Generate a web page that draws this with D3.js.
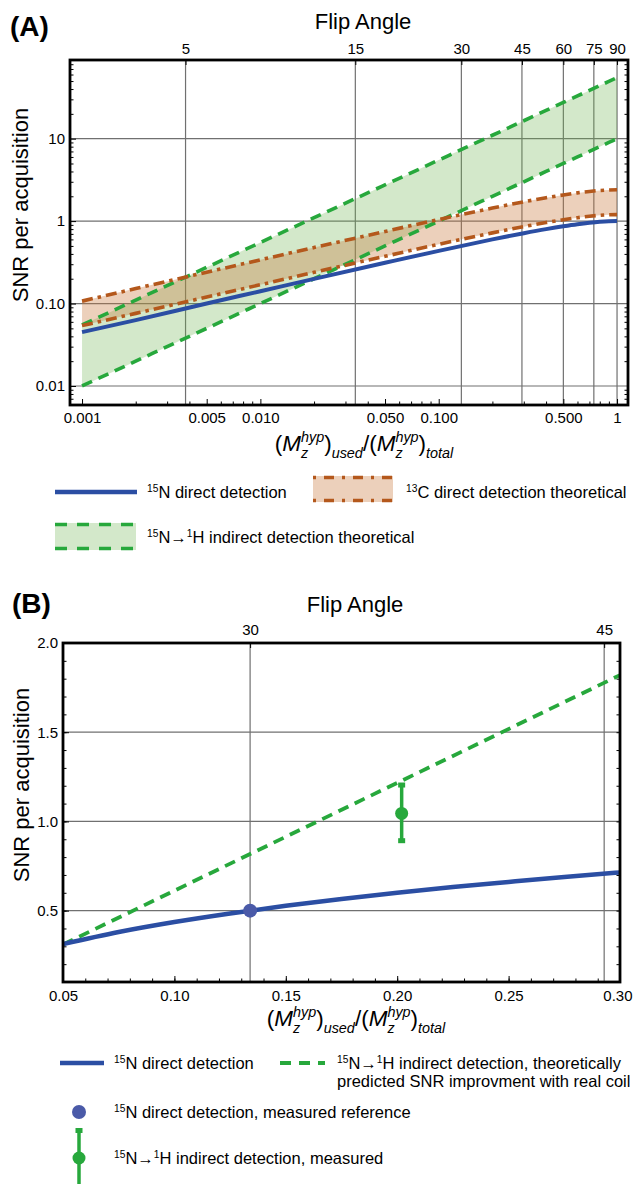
<!DOCTYPE html>
<html>
<head>
<meta charset="utf-8">
<script src="https://cdn.jsdelivr.net/npm/d3@7"></script>
<style>
body { margin: 0; background: #fff; }
svg { display: block; font-family: "Liberation Sans", Arial, sans-serif; }
</style>
</head>
<body>
<svg id="chart" width="633" height="1184"></svg>
<script>
// ---- panel A values ----
const fracA  = [0.001, 0.002, 0.005, 0.01, 0.02, 0.05, 0.1, 0.2, 0.3, 0.4, 0.5, 0.6, 0.7, 0.8, 0.9, 1];
const n15A   = [0.045, 0.063, 0.100, 0.141, 0.199, 0.312, 0.436, 0.600, 0.714, 0.800, 0.866, 0.917, 0.954, 0.980, 0.995, 1.0];
const c13HiA = [0.107, 0.152, 0.240, 0.339, 0.478, 0.749, 1.046, 1.44, 1.714, 1.92, 2.078, 2.20, 2.29, 2.352, 2.388, 2.4];
const c13LoA = [0.054, 0.076, 0.120, 0.169, 0.239, 0.374, 0.523, 0.72, 0.857, 0.96, 1.039, 1.10, 1.145, 1.176, 1.194, 1.2];
const h1HiA  = [0.055, 0.11, 0.275, 0.55, 1.1, 2.75, 5.5, 11, 16.5, 22, 27.5, 33, 38.5, 44, 49.5, 55];
const h1LoA  = [0.01, 0.02, 0.05, 0.1, 0.2, 0.5, 1, 2, 3, 4, 5, 6, 7, 8, 9, 10];
const flipTicksA = [5, 15, 30, 45, 60, 75, 90];
const xTicksA = [0.001, 0.005, 0.01, 0.05, 0.1, 0.5, 1];
const xLabelsA = ["0.001", "0.005", "0.010", "0.050", "0.100", "0.500", "1"];
const yTicksA = [0.01, 0.1, 1, 10];
const yLabelsA = ["0.01", "0.10", "1", "10"];

// ---- panel B values ----
const fracB = [0.05, 0.075, 0.1, 0.125, 0.15, 0.175, 0.2, 0.225, 0.25, 0.275, 0.3];
const n15B  = [0.312, 0.380, 0.436, 0.484, 0.527, 0.565, 0.600, 0.632, 0.661, 0.689, 0.714];
const h1FracB = [0.05, 0.30];
const h1B     = [0.31, 1.82];
const refPoint  = {f: 0.134, snr: 0.50};
const measPoint = {f: 0.202, snr: 1.045, lo: 0.892, hi: 1.204};
const flipTicksB = [30, 45];
const xTicksB = [0.05, 0.10, 0.15, 0.20, 0.25, 0.30];
const yTicksB = [0.5, 1.0, 1.5, 2.0];

const blue = "#2b4ea3", dotBlue = "#4a5aa8", green = "#27a83c", brown = "#b4581c";
const greenFill = "rgba(110,180,80,0.3)", brownFill = "rgba(200,120,60,0.35)";
const gridColor = "#707070";

const svg = d3.select("#chart");
const flipToFrac = a => 1 - Math.cos(a * Math.PI / 180);

// text with superscripts: parts = [[text, isSup], ...]
function richText(g, x, y, parts, size) {
    const t = g.append("text").attr("x", x).attr("y", y).attr("font-size", size);
    let raised = false;
    parts.forEach(([s, sup]) => {
        const sp = t.append("tspan").text(s);
        if (sup && !raised) { sp.attr("font-size", size * 0.62).attr("dy", -size * 0.38); raised = true; }
        else if (!sup && raised) { sp.attr("dy", size * 0.38); raised = false; }
        else if (sup) sp.attr("font-size", size * 0.62);
    });
    return t;
}

// (Mz^hyp)used/(Mz^hyp)total
function mzTitle(g, cx, by, s) {
    const sub = 0.64 * s;
    const t = g.append("g");
    let cur = 0;
    const put = (txt, size, it, dy) => {
        const e = t.append("text").attr("x", cur).attr("y", by + dy)
            .attr("font-size", size).attr("font-style", it ? "italic" : null).text(txt);
        return e.node().getComputedTextLength();
    };
    const half = (tail) => {
        cur += put("(", s, false, 0);
        cur += put("M", s, true, 0);
        const w1 = put("hyp", sub, true, -0.42 * s);
        const w2 = put("z", sub, true, 0.30 * s);
        cur += Math.max(w1, w2);
        cur += put(")", s, false, 0);
        cur += put(tail, sub, true, 0.32 * s);
    };
    half("used");
    cur += put("/", s, false, 0);
    half("total");
    t.attr("transform", `translate(${cx - cur / 2},0)`);
}

function styleAxis(a, size) {
    a.attr("font-size", size).attr("font-family", null);
    a.select(".domain").remove();
}

function drawPanelA() {
    const L = 70, R = 628, T = 60, B = 405;
    const x = d3.scaleLog().domain([0.000856, 1.152]).range([L, R]);
    const y = d3.scaleLog().domain([0.00588, 90]).range([B, T]);
    const g = svg.append("g");

    // grid
    g.selectAll(".vgrid").data(flipTicksA).join("line")
        .attr("x1", d => x(flipToFrac(d))).attr("x2", d => x(flipToFrac(d)))
        .attr("y1", T).attr("y2", B).attr("stroke", gridColor).attr("stroke-width", 1.2);
    g.selectAll(".hgrid").data(yTicksA).join("line")
        .attr("x1", L).attr("x2", R).attr("y1", d => y(d)).attr("y2", d => y(d))
        .attr("stroke", gridColor).attr("stroke-width", 1.2);

    const rows = fracA.map((f, i) => ({f, n15: n15A[i], cHi: c13HiA[i], cLo: c13LoA[i], hHi: h1HiA[i], hLo: h1LoA[i]}));
    const band = (hi, lo) => d3.area().x(d => x(d.f)).y0(d => y(d[lo])).y1(d => y(d[hi])).curve(d3.curveMonotoneX);
    const line = key => d3.line().x(d => x(d.f)).y(d => y(d[key])).curve(d3.curveMonotoneX);

    g.append("path").datum(rows).attr("d", band("hHi", "hLo")).attr("fill", greenFill);
    g.append("path").datum(rows).attr("d", band("cHi", "cLo")).attr("fill", brownFill);

    ["hHi", "hLo"].forEach(k => g.append("path").datum(rows).attr("d", line(k))
        .attr("fill", "none").attr("stroke", green).attr("stroke-width", 3.6).attr("stroke-dasharray", "11,7"));
    ["cHi", "cLo"].forEach(k => g.append("path").datum(rows).attr("d", line(k))
        .attr("fill", "none").attr("stroke", brown).attr("stroke-width", 3.6).attr("stroke-dasharray", "11,5,3.5,5"));
    g.append("path").datum(rows).attr("d", line("n15"))
        .attr("fill", "none").attr("stroke", blue).attr("stroke-width", 4);

    // minor tick positions
    const minorX = [0.001, 0.01, 0.1].flatMap(b => [2, 3, 4, 6, 7, 8, 9].map(m => b * m));
    const minorY = [0.001, 0.01, 0.1, 1, 10].flatMap(b => [2, 3, 4, 5, 6, 7, 8, 9].map(m => b * m))
        .filter(v => v > 0.00588 && v < 90);

    const ax = g.append("g").attr("transform", `translate(0,${B})`)
        .call(d3.axisBottom(x).tickValues(xTicksA).tickFormat((d, i) => xLabelsA[i]).tickSize(-6).tickPadding(7));
    styleAxis(ax, 15);
    styleAxis(g.append("g").attr("transform", `translate(0,${B})`)
        .call(d3.axisBottom(x).tickValues(minorX).tickFormat("").tickSize(-3.5)), 15);

    const at = g.append("g").attr("transform", `translate(0,${T})`)
        .call(d3.axisTop(x).tickValues(flipTicksA.map(flipToFrac)).tickFormat((d, i) => flipTicksA[i]).tickSize(-5).tickPadding(6.5));
    styleAxis(at, 15);

    const ay = g.append("g").attr("transform", `translate(${L},0)`)
        .call(d3.axisLeft(y).tickValues(yTicksA).tickFormat((d, i) => yLabelsA[i]).tickSize(-6).tickPadding(5));
    styleAxis(ay, 15);
    styleAxis(g.append("g").attr("transform", `translate(${L},0)`)
        .call(d3.axisLeft(y).tickValues(minorY).tickFormat("").tickSize(-3.5)), 15);
    styleAxis(g.append("g").attr("transform", `translate(${R},0)`)
        .call(d3.axisRight(y).tickValues(minorY).tickFormat("").tickSize(-3.5)), 15);

    g.append("rect").attr("x", L).attr("y", T).attr("width", R - L).attr("height", B - T)
        .attr("fill", "none").attr("stroke", "#000").attr("stroke-width", 2.8);

    // titles
    g.append("text").attr("x", 10).attr("y", 36).attr("font-size", 28).attr("font-weight", "bold").text("(A)");
    g.append("text").attr("x", 363).attr("y", 29).attr("font-size", 22).attr("text-anchor", "middle").text("Flip Angle");
    g.append("text").attr("transform", "translate(28,205) rotate(-90)").attr("font-size", 22)
        .attr("text-anchor", "middle").text("SNR per acquisition");
    mzTitle(g, 364, 451, 22.5);

    // legend
    const lg = g.append("g");
    lg.append("line").attr("x1", 55).attr("x2", 137).attr("y1", 492).attr("y2", 492)
        .attr("stroke", blue).attr("stroke-width", 4.5);
    richText(lg, 147, 498, [["15", true], ["N direct detection", false]], 16.5);

    lg.append("rect").attr("x", 313).attr("y", 476).attr("width", 80).attr("height", 26).attr("fill", brownFill);
    [477.5, 500.5].forEach(yy => lg.append("line").attr("x1", 313).attr("x2", 393).attr("y1", yy).attr("y2", yy)
        .attr("stroke", brown).attr("stroke-width", 3.4).attr("stroke-dasharray", "3,8,10,8"));
    richText(lg, 406, 498, [["13", true], ["C direct detection theoretical", false]], 16.5);

    lg.append("rect").attr("x", 55).attr("y", 523).attr("width", 81).attr("height", 27).attr("fill", greenFill);
    [524.5, 548.5].forEach(yy => lg.append("line").attr("x1", 55).attr("x2", 136).attr("y1", yy).attr("y2", yy)
        .attr("stroke", green).attr("stroke-width", 3.5).attr("stroke-dasharray", "12,10"));
    richText(lg, 147, 543, [["15", true], ["N→", false], ["1", true], ["H indirect detection theoretical", false]], 16.5);
}

function drawPanelB() {
    const L = 63, R = 620, T = 643, B = 982;
    const x = d3.scaleLinear().domain([0.05, 0.30]).range([L, R]);
    const y = d3.scaleLinear().domain([0.1, 2.0]).range([B, T]);
    const g = svg.append("g");

    g.selectAll(".vgrid").data(flipTicksB).join("line")
        .attr("x1", d => x(flipToFrac(d))).attr("x2", d => x(flipToFrac(d)))
        .attr("y1", T).attr("y2", B).attr("stroke", gridColor).attr("stroke-width", 1.2);
    g.selectAll(".hgrid").data(yTicksB.slice(0, 3)).join("line")
        .attr("x1", L).attr("x2", R).attr("y1", d => y(d)).attr("y2", d => y(d))
        .attr("stroke", gridColor).attr("stroke-width", 1.2);

    const minorX = d3.range(0.05, 0.3001, 0.01);
    const minorY = d3.range(0.1, 2.0001, 0.1);

    const ax = g.append("g").attr("transform", `translate(0,${B})`)
        .call(d3.axisBottom(x).tickValues(xTicksB).tickFormat(d3.format(".2f")).tickSize(-6).tickPadding(8));
    styleAxis(ax, 15);
    // keep the last label inside the page
    ax.selectAll(".tick text").filter(d => d === 0.30).attr("text-anchor", "end").attr("dx", 12);
    styleAxis(g.append("g").attr("transform", `translate(0,${B})`)
        .call(d3.axisBottom(x).tickValues(minorX).tickFormat("").tickSize(-3.5)), 15);
    const at = g.append("g").attr("transform", `translate(0,${T})`)
        .call(d3.axisTop(x).tickValues(flipTicksB.map(flipToFrac)).tickFormat((d, i) => flipTicksB[i]).tickSize(-5).tickPadding(8));
    styleAxis(at, 15);
    const ay = g.append("g").attr("transform", `translate(${L},0)`)
        .call(d3.axisLeft(y).tickValues(yTicksB).tickFormat(d3.format(".1f")).tickSize(-6).tickPadding(5));
    styleAxis(ay, 15);
    styleAxis(g.append("g").attr("transform", `translate(${L},0)`)
        .call(d3.axisLeft(y).tickValues(minorY).tickFormat("").tickSize(-3.5)), 15);
    styleAxis(g.append("g").attr("transform", `translate(${R},0)`)
        .call(d3.axisRight(y).tickValues(minorY).tickFormat("").tickSize(-3.5)), 15);

    // curves
    g.append("path").datum(h1FracB.map((f, i) => [f, h1B[i]]))
        .attr("d", d3.line().x(d => x(d[0])).y(d => y(d[1])))
        .attr("fill", "none").attr("stroke", green).attr("stroke-width", 3.8).attr("stroke-dasharray", "11,7");
    g.append("path").datum(fracB.map((f, i) => [f, n15B[i]]))
        .attr("d", d3.line().x(d => x(d[0])).y(d => y(d[1])).curve(d3.curveMonotoneX))
        .attr("fill", "none").attr("stroke", blue).attr("stroke-width", 4.5);

    // measured points
    g.append("circle").attr("cx", x(refPoint.f)).attr("cy", y(refPoint.snr)).attr("r", 7).attr("fill", dotBlue);
    const mx = x(measPoint.f);
    g.append("line").attr("x1", mx).attr("x2", mx).attr("y1", y(measPoint.hi)).attr("y2", y(measPoint.lo))
        .attr("stroke", green).attr("stroke-width", 3.5);
    [measPoint.hi, measPoint.lo].forEach(v => g.append("rect")
        .attr("x", mx - 3.5).attr("y", y(v) - 2.5).attr("width", 7).attr("height", 5).attr("fill", green));
    g.append("circle").attr("cx", mx).attr("cy", y(measPoint.snr)).attr("r", 6.5).attr("fill", green);

    g.append("rect").attr("x", L).attr("y", T).attr("width", R - L).attr("height", B - T)
        .attr("fill", "none").attr("stroke", "#000").attr("stroke-width", 2.8);

    g.append("text").attr("x", 12).attr("y", 613).attr("font-size", 28).attr("font-weight", "bold").text("(B)");
    g.append("text").attr("x", 355).attr("y", 612).attr("font-size", 22).attr("text-anchor", "middle").text("Flip Angle");
    g.append("text").attr("transform", "translate(29,785) rotate(-90)").attr("font-size", 22)
        .attr("text-anchor", "middle").text("SNR per acquisition");
    mzTitle(g, 356, 1026, 22.5);

    // legend
    const lg = g.append("g");
    lg.append("line").attr("x1", 60).attr("x2", 104).attr("y1", 1063).attr("y2", 1063)
        .attr("stroke", blue).attr("stroke-width", 4.5);
    richText(lg, 114, 1069, [["15", true], ["N direct detection", false]], 16.5);
    lg.append("line").attr("x1", 280).attr("x2", 325).attr("y1", 1063).attr("y2", 1063)
        .attr("stroke", green).attr("stroke-width", 4).attr("stroke-dasharray", "11,8");
    richText(lg, 337, 1069, [["15", true], ["N→", false], ["1", true], ["H indirect detection, theoretically", false]], 16.5);
    lg.append("text").attr("x", 337).attr("y", 1087).attr("font-size", 16.5).text("predicted SNR improvment with real coil");

    lg.append("circle").attr("cx", 79).attr("cy", 1112).attr("r", 7).attr("fill", dotBlue);
    richText(lg, 114, 1118, [["15", true], ["N direct detection, measured reference", false]], 16.5);

    lg.append("line").attr("x1", 79).attr("x2", 79).attr("y1", 1130).attr("y2", 1190)
        .attr("stroke", green).attr("stroke-width", 3.5);
    lg.append("rect").attr("x", 75.5).attr("y", 1128).attr("width", 7).attr("height", 5).attr("fill", green);
    lg.append("circle").attr("cx", 79).attr("cy", 1158).attr("r", 6.5).attr("fill", green);
    richText(lg, 114, 1164, [["15", true], ["N→", false], ["1", true], ["H indirect detection, measured", false]], 16.5);
}

drawPanelA();
drawPanelB();
</script>
</body>
</html>
